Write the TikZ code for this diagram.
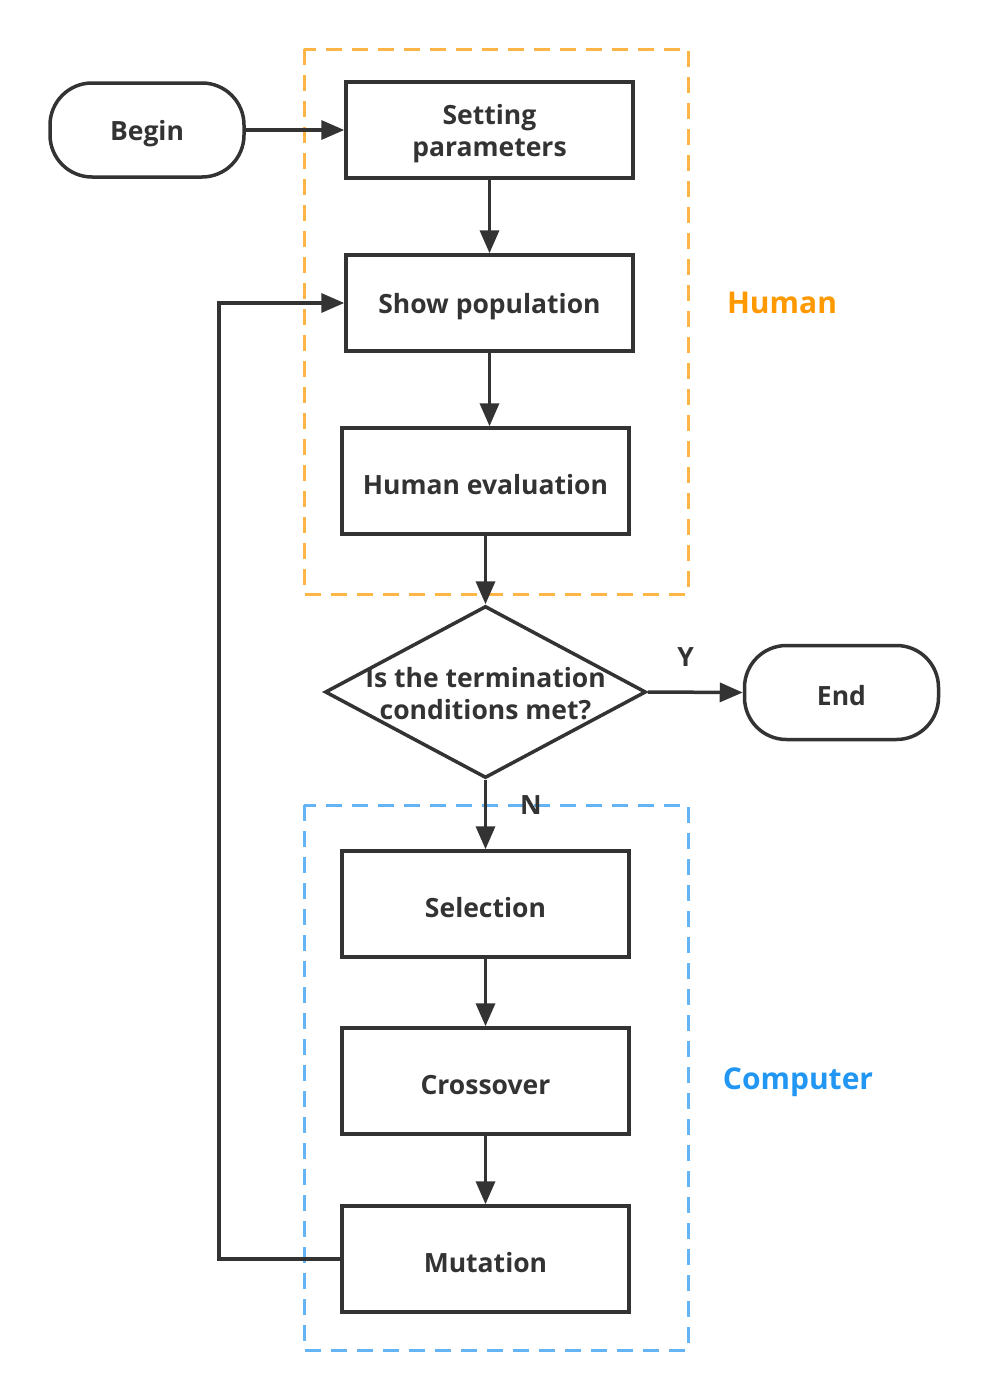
\documentclass[tikz,border=0pt]{standalone}
\usepackage{fontspec}
\setmainfont{Open Sans}
\usetikzlibrary{shapes.geometric, arrows.meta}
\definecolor{lineGray}{RGB}{51, 51, 51}
\definecolor{dashOrange}{RGB}{255, 180, 70}
\definecolor{textOrange}{RGB}{255, 153, 0}
\definecolor{dashBlue}{RGB}{100, 180, 245}
\definecolor{textBlue}{RGB}{33, 150, 243}
\newcommand{\lowstrut}{\rule{0pt}{1.02em}}

\begin{document}
\begin{tikzpicture}[x=1pt, y=-1pt,
    every node/.style={font=\fontsize{26.5}{32}\selectfont\bfseries, text=lineGray},
    lowered/.style={execute at begin node={\lowstrut}},
    procbox/.style={draw=lineGray, line width=3.5pt, minimum width=287pt, inner sep=0pt, align=center, lowered},
    termbox/.style={draw=lineGray, line width=3.5pt, rounded corners=42pt, minimum width=194pt, minimum height=94pt, inner sep=0pt, lowered},
    decbox/.style={draw=lineGray, line width=3.5pt, diamond, aspect=1.866, minimum width=321pt, minimum height=172pt, inner sep=0pt, align=center},
    flow/.style={draw=lineGray, line width=3.5pt, -{Triangle[length=23pt, width=19pt]}},
    groupbox/.style={line width=3pt, dash pattern=on 16pt off 10pt},
    grouplabel/.style={font=\fontsize{30}{36}\selectfont\bfseries}]
      \useasboundingbox (0,0) rectangle (988,1400);

      % Groups
      \draw[groupbox, dashOrange] (304,49) rectangle (688,594);
      \draw[groupbox, dashBlue] (304,805) rectangle (688,1350);
      \node[grouplabel, text=textOrange] (human) at (782,303) {Human};
      \node[grouplabel, text=textBlue] (computer) at (798,1082) {Computer};

      % Human part
      \node[termbox] (begin) at (147,130) {Begin};
      \node[procbox, minimum height=96pt] (setting) at (489.5,130) {\lowstrut Setting\\parameters};
      \node[procbox, minimum height=96pt] (show) at (489.5,303) {Show population};
      \node[procbox, minimum height=106pt] (eval) at (485.5,481) {Human evaluation};

      % Decision
      \node[decbox] (cond) at (485.5,692) {\makebox[180pt]{\rule{0pt}{0.9em}Is the termination}\\\makebox[180pt]{conditions met?}};
      \node[termbox] (end) at (841.5,692.5) {End};

      % Computer part
      \node[procbox, minimum height=106pt] (select) at (485.5,904) {Selection};
      \node[procbox, minimum height=106pt] (cross) at (485.5,1081) {Crossover};
      \node[procbox, minimum height=106pt] (mutate) at (485.5,1259) {Mutation};

      % Arrows
      \draw[flow] (begin.east) -- (setting.west);
      \draw[flow] (setting.south) -- (show.north);
      \draw[flow] (show.south) -- (show.south |- eval.north);
      \draw[flow] (eval.south) -- (cond.north);
      \draw[flow] (cond.east) -- (end.west) node[pos=0.4, yshift=35pt] (yes) {Y};
      \draw[flow] (cond.south) -- (select.north) node[pos=0.37, xshift=45.5pt] (no) {N};
      \draw[flow] (select.south) -- (cross.north);
      \draw[flow] (cross.south) -- (mutate.north);
      \draw[flow] (mutate.west) -- (219,1259) -- (219,303) -- (show.west);
    \end{tikzpicture}
\end{document}
